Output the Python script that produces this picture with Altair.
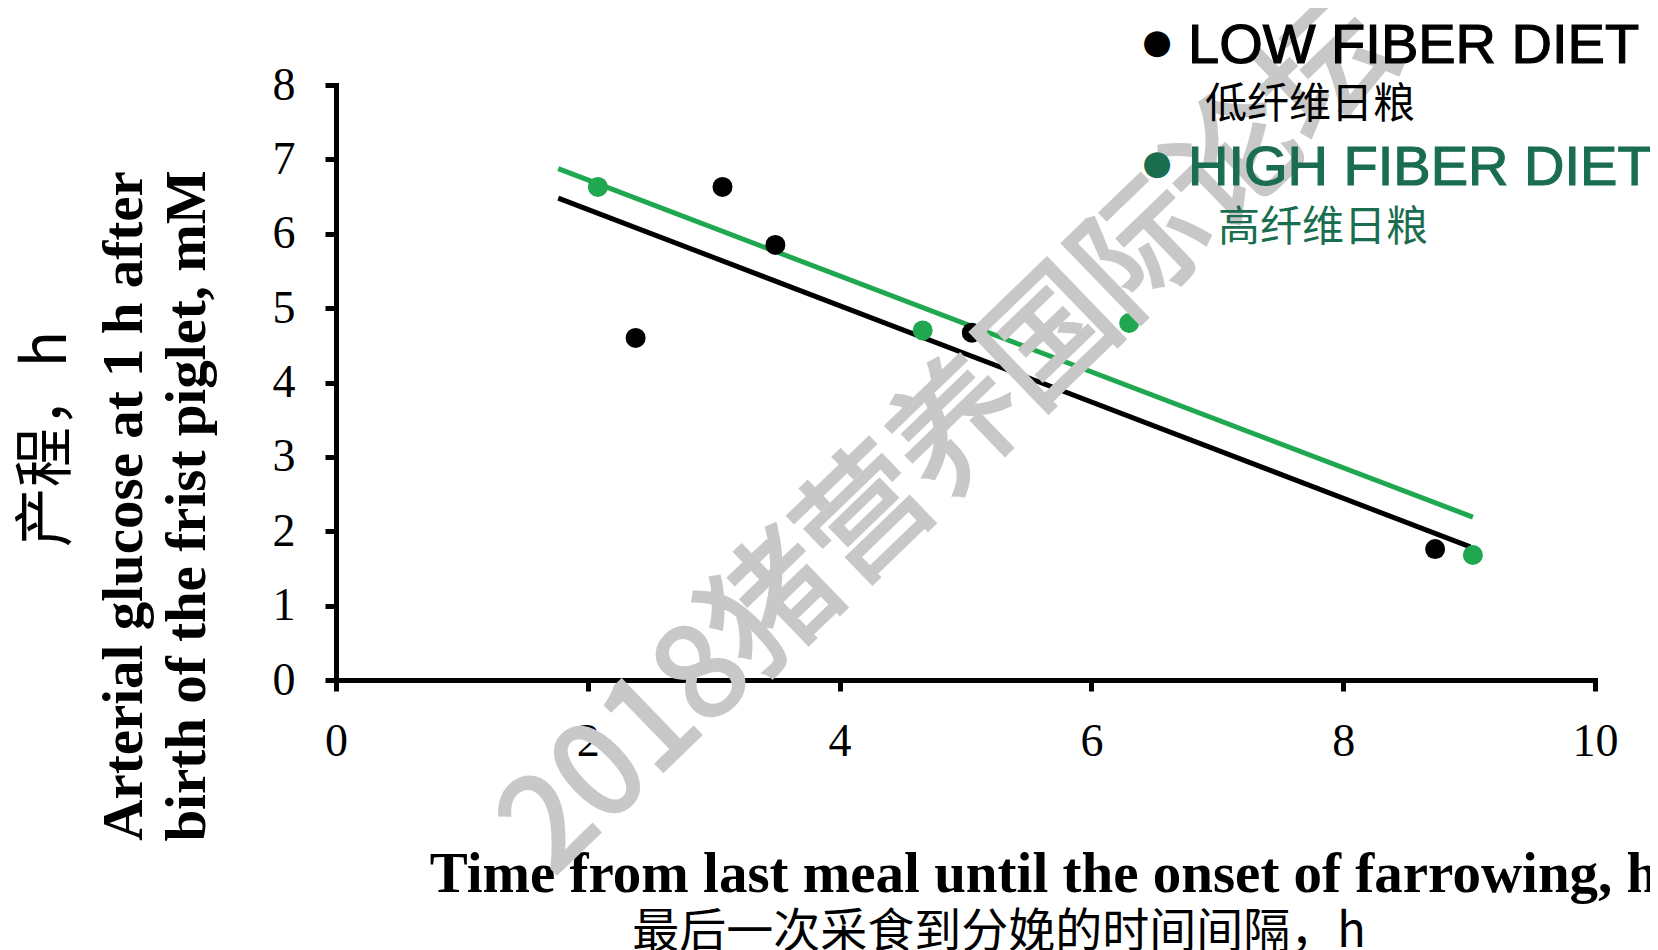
import altair as alt
import pandas as pd

# ---- data ----
low_x = [2.38, 3.07, 3.49, 5.05, 8.73]
low_y = [4.60, 6.63, 5.85, 4.67, 1.76]
high_x = [2.08, 4.66, 6.30, 9.03]
high_y = [6.63, 4.70, 4.80, 1.68]

# trend lines (end points)
low_line_x = [1.765, 9.01]
low_line_y = [6.48, 1.79]
high_line_x = [1.765, 9.03]
high_line_y = [6.875, 2.19]

diets = ["LOW", "HIGH"]
colors = ["#000000", "#1fa84f"]
x_ticks = [0, 2, 4, 6, 8, 10]
y_ticks = [0, 1, 2, 3, 4, 5, 6, 7, 8]

pts = pd.DataFrame({
    "x": low_x + high_x,
    "y": low_y + high_y,
    "diet": ["LOW"] * len(low_x) + ["HIGH"] * len(high_x),
})
lines = pd.DataFrame({
    "x": low_line_x + high_line_x,
    "y": low_line_y + high_line_y,
    "diet": ["LOW"] * 2 + ["HIGH"] * 2,
})

W, H = 1259, 595

xs = alt.Scale(domain=[0, 10], nice=False, zero=True)
ys = alt.Scale(domain=[0, 8], nice=False, zero=True)
cs = alt.Scale(domain=diets, range=colors)

xax = alt.Axis(values=x_ticks, format="d", title=None, grid=False, domainColor="black", domainWidth=5,
               domainCap="square", tickColor="black", tickWidth=5, tickSize=11,
               labelFont="Liberation Serif", labelFontSize=46, labelColor="black",
               labelPadding=28, labelFlush=False)
yax = alt.Axis(values=y_ticks, format="d", title=None, grid=False, domainColor="black", domainWidth=5,
               domainCap="square", tickColor="black", tickWidth=5, tickSize=11,
               labelFont="Liberation Serif", labelFontSize=46, labelColor="black",
               labelPadding=30, labelFlush=False)

line_layer = alt.Chart(lines).mark_line(strokeWidth=5, strokeCap="butt").encode(
    x=alt.X("x:Q", scale=xs, axis=xax),
    y=alt.Y("y:Q", scale=ys, axis=yax),
    color=alt.Color("diet:N", scale=cs, legend=None),
    detail="diet:N",
)
pt_layer = alt.Chart(pts).mark_circle(size=400, opacity=1).encode(
    x=alt.X("x:Q", scale=xs, axis=xax),
    y=alt.Y("y:Q", scale=ys, axis=yax),
    color=alt.Color("diet:N", scale=cs, legend=None),
)

one = alt.Data(values=[{}])

def txt(text, x, y, size, font, color="black", weight="normal", angle=0,
        align="center", baseline="middle", stroke_w=0):
    kw = dict(text=text, fontSize=size, font=font, color=color, fontWeight=weight,
              angle=angle, align=align, baseline=baseline)
    if stroke_w:
        kw.update(stroke=color, strokeWidth=stroke_w)
    return alt.Chart(one).mark_text(**kw).encode(x=alt.value(x), y=alt.value(y))

LEG_GREEN = "#1a6e4f"
texts = [
    # y title
    txt("Arterial glucose at 1 h after", -211, 421, 57, "Liberation Serif", weight="bold", angle=270),
    txt("birth of the frist piglet, mM", -148, 421, 57, "Liberation Serif", weight="bold", angle=270),
    txt("产程，h", -288, 354, 60, "Noto Sans CJK SC", angle=270),
    # x title
    txt("Time from last meal until  the onset of farrowing, h", 708, 790, 57, "Liberation Serif", weight="bold"),
    txt("最后一次采食到分娩的时间间隔，h", 663, 848, 47, "Noto Sans CJK SC"),
]

watermark = txt("2018猪营养国际论坛", 615, 355, 128, "Noto Sans CJK SC", color="#c8c8c8",
                angle=316, stroke_w=3.5)

legend = [
    txt("●", 821, -41.6, 34, "DejaVu Sans"),
    txt("LOW FIBER DIET", 852, -21.6, 56, "Liberation Sans", align="left", baseline="alphabetic", stroke_w=1.2),
    txt("低纤维日粮", 869, 20.4, 42, "Noto Sans CJK SC", align="left"),
    txt("●", 821, 79.4, 34, "DejaVu Sans", color=LEG_GREEN),
    txt("HIGH FIBER DIET", 852, 100.4, 56, "Liberation Sans", color=LEG_GREEN, align="left",
        baseline="alphabetic", stroke_w=1.2),
    txt("高纤维日粮", 882, 143, 42, "Noto Sans CJK SC", color=LEG_GREEN, align="left"),
]

chart = alt.layer(line_layer, pt_layer, *texts, watermark, *legend).properties(
    width=W, height=H,
    view=alt.ViewBackground(stroke="transparent", strokeWidth=0, strokeOpacity=0),
    autosize=alt.AutoSizeParams(type="none"),
    padding={"left": 328, "top": 77, "right": 55, "bottom": 270},
).configure(
    background="white",
    style={"cell": {"stroke": "transparent", "strokeWidth": 0}},
).configure_view(
    stroke="transparent", strokeWidth=0, strokeOpacity=0
).configure_axis(grid=False, gridOpacity=0)

chart.save("out.html", embed_options={"renderer": "svg", "actions": False})
